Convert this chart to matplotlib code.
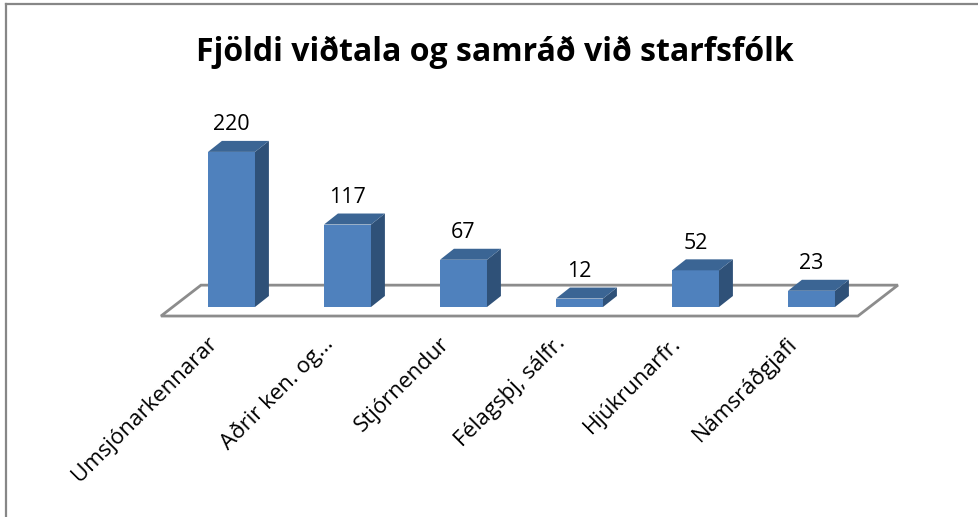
import matplotlib.pyplot as plt
from matplotlib.patches import Polygon
from matplotlib.lines import Line2D

plt.rcParams['font.family'] = ['Open Sans', 'DejaVu Sans']

# values
categories = ['Umsjónarkennarar', 'Aðrir ken. og...', 'Stjórnendur',
              'Félagsþj, sálfr.', 'Hjúkrunarfr.', 'Námsráðgjafi']
values = [220, 117, 67, 12, 52, 23]

front = '#4F81BD'
side = '#2F5178'
top = '#3B6594'

W, H = 979, 517
fig = plt.figure(figsize=(W / 100, H / 100), dpi=100)

# axes placed so one category = 116 px and 1 unit = 0.705 px
x0 = 231.5 - 116      # pixel of x = -1
ax = fig.add_axes([x0 / W, (210 - 20 * 0.705) / H, 116 * 7 / W, 280 * 0.705 / H])
ax.set_xlim(-1, 6)
ax.set_ylim(-20, 260)
ax.axis('off')

n = len(categories)
w = 0.405
dx, dy = 0.12, 15.6   # fake depth of the 3d bars

# floor
fx0, fx1 = -0.608, n - 0.6
fback, ffront = 31, -12.8
floor = Polygon([(fx0, ffront), (fx1, ffront), (fx1 + 0.345, fback), (fx0 + 0.345, fback)],
                closed=True, facecolor='white', edgecolor='#8C8C8C', linewidth=2, zorder=1)
ax.add_patch(floor)

xs = list(range(n))
ax.bar(xs, values, width=w, color=front, zorder=3)
for x, v in zip(xs, values):
    r = x + w / 2
    l = x - w / 2
    ax.add_patch(Polygon([(r, 0), (r + dx, dy), (r + dx, v + dy), (r, v)],
                         closed=True, facecolor=side, edgecolor='none', zorder=3))
    ax.add_patch(Polygon([(l, v), (l + dx, v + dy), (r + dx, v + dy), (r, v)],
                         closed=True, facecolor=top, edgecolor='none', zorder=3))
    ax.text(x, v + dy + 8, str(v), ha='center', va='bottom', fontsize=15.5)
    ax.text(x - 0.15, -47, categories[x], rotation=45, rotation_mode='anchor',
            ha='right', va='center', fontsize=16)

fig.text(495 / W, 1 - 52 / H, 'Fjöldi viðtala og samráð við starfsfólk',
         ha='center', va='center', fontsize=23, fontweight='bold')

# chart frame (top and left edges visible)
fig.add_artist(Line2D([6 / W, 1], [1 - 4 / H, 1 - 4 / H], color='#878787', linewidth=1.6))
fig.add_artist(Line2D([6 / W, 6 / W], [0, 1 - 4 / H], color='#878787', linewidth=1.6))

fig.savefig('out.png', dpi=100)
